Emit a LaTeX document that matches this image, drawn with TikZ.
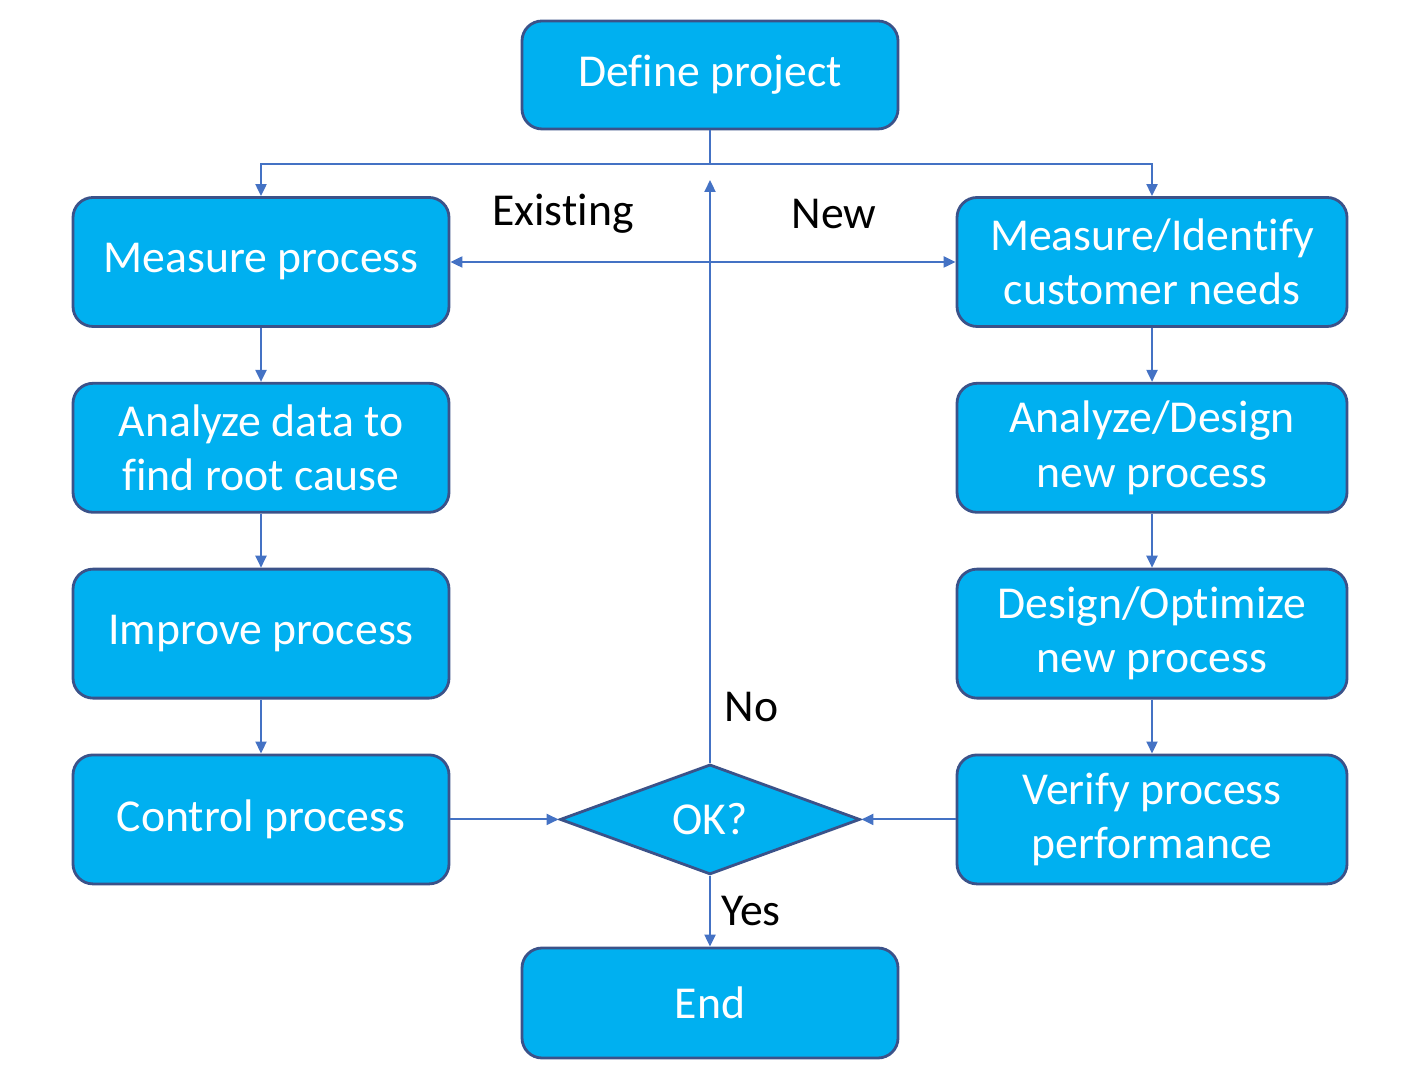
\documentclass[tikz,border=0pt]{standalone}
\usepackage{fontspec}
\setmainfont{Carlito}[Ligatures={NoCommon,NoContextual}, Contextuals=NoAlternate]
\usetikzlibrary{positioning, arrows.meta, calc, shapes.geometric}

\definecolor{boxfill}{HTML}{00B0F0}
\definecolor{boxline}{HTML}{3B5289}
\definecolor{flowline}{HTML}{4472C4}

\begin{document}
\begin{tikzpicture}[
  node distance=0.54cm,
  box/.style={rectangle, rounded corners=0.2cm, draw=boxline, line width=0.8pt, fill=boxfill,
    text=white, minimum width=3.76cm, minimum height=1.29cm, inner ysep=0pt, align=center,
    font=\fontsize{13}{15.4}\selectfont},
  rbox/.style={box, minimum width=3.9cm},
  decision/.style={diamond, draw=boxline, line width=0.8pt, fill=boxfill, text=white,
    aspect=2.73, minimum width=3cm, minimum height=1.1cm, inner sep=0pt,
    font=\fontsize{13}{15.4}\selectfont},
  lbl/.style={inner sep=0pt, font=\fontsize{13}{15.4}\selectfont},
  arrow/.style={-{Triangle[length=0.12cm, width=0.11cm]}, draw=flowline, line width=0.6pt}
]
  \useasboundingbox (0,0) rectangle (14.27,10.80);

  \node[box, minimum height=1.08cm] (define) at (7.10,10.05) {Define project};

  % existing process
  \node[box] (measure) at (2.61,8.18) {Measure process};
  \node[box, below=of measure] (analyze) {Analyze data to\\find root cause};
  \node[box, below=of analyze] (improve) {Improve process};
  \node[box, below=of improve] (control) {Control process};

  % new process
  \node[rbox] (identify) at (11.52,8.18) {Measure/Identify\\customer needs};
  \node[rbox, below=of identify] (design) {Analyze/Design\\new process};
  \node[rbox, below=of design] (optimize) {Design/Optimize\\new process};
  \node[rbox, below=of optimize] (verify) {Verify process\\performance};

  \node[decision] (ok) at (control.center -| define.center) {OK?};
  \node[box, minimum height=1.1cm] (end) at (7.10,0.77) {End};

  \coordinate (split) at ($(define.south)+(0,-0.34)$);
  \coordinate (loop) at (7.10,9.00);

  \draw[draw=flowline, line width=0.6pt] (define.south) -- (split);
  \draw[arrow] (split) -| (measure.north);
  \draw[arrow] (split) -| (identify.north);
  \draw[arrow, {Triangle[length=0.12cm, width=0.11cm]}-{Triangle[length=0.12cm, width=0.11cm]}]
    (measure.east) -- (identify.west);

  \draw[arrow] (measure) -- (analyze);
  \draw[arrow] (analyze) -- (improve);
  \draw[arrow] (improve) -- (control);
  \draw[arrow] (identify) -- (design);
  \draw[arrow] (design) -- (optimize);
  \draw[arrow] (optimize) -- (verify);

  \draw[arrow] (control) -- (ok);
  \draw[arrow] (verify) -- (ok);
  \draw[arrow] (ok.north) -- (loop);
  \draw[arrow] (ok.south) -- node[lbl, right=0.1cm] {Yes} (end.north);

  \node[lbl] at (5.63,8.66) {Existing};
  \node[lbl] at (8.34,8.66) {New};
  \node[lbl, above right=0.41cm and 0.14cm of ok.north] {No};
\end{tikzpicture}
\end{document}
